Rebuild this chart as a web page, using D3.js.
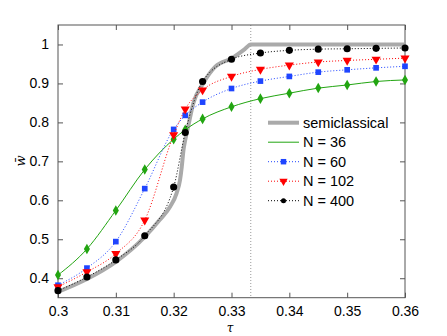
<!DOCTYPE html>
<meta charset="utf-8">
<style>
body { margin: 0; background: #fff; }
svg { font-family: "Liberation Sans", Arial, sans-serif; }
.axis path, .axis line { stroke: #555; }
.axis text { font-size: 14px; fill: #000; }
.frame { fill: none; stroke: #555; stroke-width: 1; }
</style>
<body>
<svg width="447" height="336"></svg>
</body>
<script src="https://d3js.org/d3.v7.min.js"></script>
<script>
// tau grid shared by the finite-N runs
var tau = [0.3, 0.305, 0.31, 0.315, 0.32, 0.322, 0.325, 0.33, 0.335, 0.34, 0.345, 0.35, 0.355, 0.36];
var n36  = [0.408, 0.475, 0.574, 0.679, 0.757, 0.781, 0.809, 0.840, 0.861, 0.875, 0.888, 0.896, 0.905, 0.909];
var n60  = [0.382, 0.426, 0.494, 0.630, 0.782, 0.818, 0.852, 0.887, 0.906, 0.918, 0.929, 0.935, 0.940, 0.944];
var n102 = [0.378, 0.416, 0.463, 0.549, 0.768, 0.834, 0.883, 0.918, 0.936, 0.947, 0.955, 0.959, 0.962, 0.965];
var n400 = [0.368, 0.403, 0.447, 0.509, 0.634, 0.774, 0.905, 0.962, 0.978, 0.985, 0.988, 0.989, 0.990, 0.991];

// semiclassical curve
var semiTau = [0.3, 0.305, 0.31, 0.315, 0.3176, 0.3194, 0.3205, 0.3211, 0.3214, 0.3217, 0.322, 0.3225, 0.3234, 0.3251, 0.3272, 0.33, 0.3323, 0.33333, 0.36];
var semiW   = [0.365, 0.398, 0.442, 0.506, 0.550, 0.584, 0.618, 0.652, 0.686, 0.729, 0.755, 0.789, 0.849, 0.900, 0.943, 0.964, 0.988, 1.0, 1.0];

var xTicks = [0.3, 0.31, 0.32, 0.33, 0.34, 0.35, 0.36];
var yTicks = [0.4, 0.5, 0.6, 0.7, 0.8, 0.9, 1];
var tauStar = 1 / 3;

var margin = {left: 58, top: 25, right: 42, bottom: 38.3};
var svg = d3.select("svg");
var width  = 447 - margin.left - margin.right;
var height = 336 - margin.top - margin.bottom;

var g = svg.append("g")
    .attr("transform", "translate(" + margin.left + "," + margin.top + ")");

var x = d3.scaleLinear().domain([0.3, 0.36]).range([0, width]);
var y = d3.scaleLinear().domain([0.35, 1.05]).range([height, 0]);

// dotted vertical marker at tau = 1/3
g.append("line")
    .attr("x1", x(tauStar)).attr("x2", x(tauStar))
    .attr("y1", 0).attr("y2", height)
    .attr("stroke", "#999").attr("stroke-width", 1)
    .attr("stroke-dasharray", "1,2");

var fmt = function(d) { return d === 1 ? "1" : d3.format(".2~f")(d); };

g.append("g").attr("class", "axis")
    .attr("transform", "translate(0," + height + ")")
    .call(d3.axisBottom(x).tickValues(xTicks).tickSize(-5).tickPadding(8).tickFormat(fmt))
    .call(function(a) { a.select(".domain").remove(); });
g.append("g").attr("class", "axis")
    .call(d3.axisTop(x).tickValues(xTicks).tickSize(-5).tickFormat(""))
    .call(function(a) { a.select(".domain").remove(); });
g.append("g").attr("class", "axis")
    .call(d3.axisLeft(y).tickValues(yTicks).tickSize(-5).tickPadding(9).tickFormat(fmt))
    .call(function(a) { a.select(".domain").remove(); });
g.append("g").attr("class", "axis")
    .attr("transform", "translate(" + width + ",0)")
    .call(d3.axisRight(y).tickValues(yTicks).tickSize(-5).tickFormat(""))
    .call(function(a) { a.select(".domain").remove(); });

g.append("rect").attr("class", "frame")
    .attr("width", width).attr("height", height);

var line = d3.line()
    .curve(d3.curveMonotoneX)
    .x(function(d) { return x(d[0]); })
    .y(function(d) { return y(d[1]); });

g.append("path")
    .datum(d3.zip(semiTau, semiW))
    .attr("fill", "none")
    .attr("stroke", "#aaa")
    .attr("stroke-width", 4)
    .attr("d", line);

var series = [
    {name: "N = 36",  vals: n36,  color: "#22a511", dash: null,  sym: d3.symbolDiamond,  size: 32, rot: 0},
    {name: "N = 60",  vals: n60,  color: "#1f45ff", dash: "1,2", sym: d3.symbolSquare,   size: 32, rot: 0},
    {name: "N = 102", vals: n102, color: "#ff0000", dash: "1,2", sym: d3.symbolTriangle, size: 36, rot: 180},
    {name: "N = 400", vals: n400, color: "#000000", dash: "1,2", sym: d3.symbolCircle,   size: 40, rot: 0}
];

series.forEach(function(s) {
    var pts = d3.zip(tau, s.vals);
    g.append("path")
        .datum(pts)
        .attr("fill", "none")
        .attr("stroke", s.color)
        .attr("stroke-width", 1)
        .attr("stroke-dasharray", s.dash)
        .attr("d", line);
    g.append("g").selectAll("path")
        .data(pts)
        .enter().append("path")
        .attr("d", d3.symbol().type(s.sym).size(s.size))
        .attr("fill", s.color)
        .attr("transform", function(d) {
            return "translate(" + x(d[0]) + "," + y(d[1]) + ") rotate(" + s.rot + ")";
        });
});

// legend
var legend = svg.append("g").attr("transform", "translate(268,122.7)");
var items = [{name: "semiclassical", color: "#aaa", w: 4, dash: null, sym: null}].concat(
    series.map(function(s, i) {
        return {name: s.name, color: s.color, w: 1, dash: s.dash, sym: i === 0 ? null : s.sym, rot: s.rot};
    }));

var row = legend.selectAll("g").data(items).enter().append("g")
    .attr("transform", function(d, i) { return "translate(0," + i * 19.5 + ")"; });
row.append("line")
    .attr("x1", 0).attr("x2", 31)
    .attr("stroke", function(d) { return d.color; })
    .attr("stroke-width", function(d) { return d.w; })
    .attr("stroke-dasharray", function(d) { return d.dash; });
row.filter(function(d) { return d.sym; }).append("path")
    .attr("d", function(d) { return d3.symbol().type(d.sym).size(d.sym === d3.symbolCircle ? 20 : 30)(); })
    .attr("fill", function(d) { return d.color; })
    .attr("transform", function(d) { return "translate(15.5,0) rotate(" + (d.rot || 0) + ")"; });
row.append("text")
    .attr("x", 35).attr("dy", "0.35em")
    .style("font-size", "14.5px")
    .text(function(d) { return d.name; });

// axis labels
svg.append("text")
    .attr("x", 230).attr("y", 332)
    .attr("text-anchor", "middle")
    .style("font-family", "'DejaVu Serif', serif")
    .style("font-style", "italic")
    .style("font-size", "12px")
    .text("τ");
svg.append("text")
    .attr("transform", "translate(25,161) rotate(-90)")
    .attr("text-anchor", "middle")
    .style("font-family", "'DejaVu Serif', serif")
    .style("font-style", "italic")
    .style("font-size", "13px")
    .text("w\u0304");
</script>
